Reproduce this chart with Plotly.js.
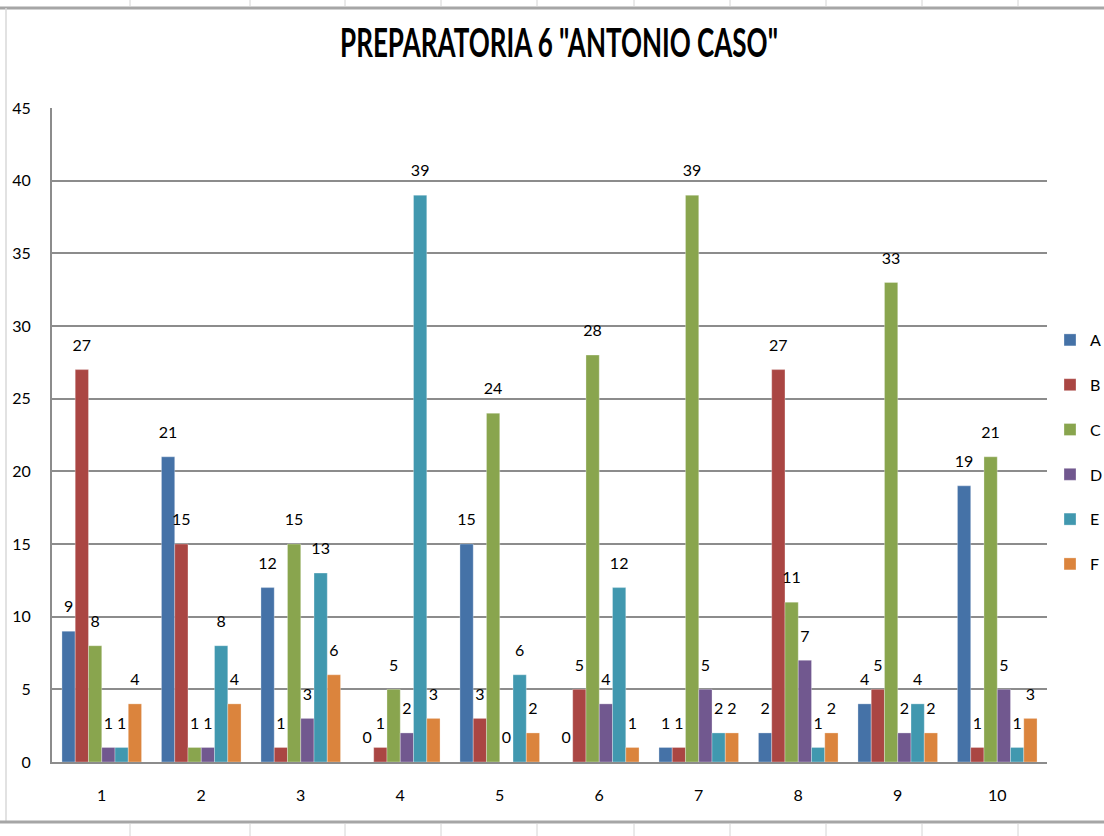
<!DOCTYPE html>
<html>
<head>
<meta charset="utf-8">
<script src="https://cdn.plot.ly/plotly-3.0.1.min.js"></script>
<style>html,body{margin:0;padding:0;background:#fff;}#chart{width:1104px;height:836px;}</style>
</head>
<body>
<div id="chart"></div>
<script>
const categories = ["1","2","3","4","5","6","7","8","9","10"];
const seriesNames = ["A","B","C","D","E","F"];
const seriesA = [9, 21, 12, 0, 15, 0, 1, 2, 4, 19];
const seriesB = [27, 15, 1, 1, 3, 5, 1, 27, 5, 1];
const seriesC = [8, 1, 15, 5, 24, 28, 39, 11, 33, 21];
const seriesD = [1, 1, 3, 2, 0, 4, 5, 7, 2, 5];
const seriesE = [1, 8, 13, 39, 6, 12, 2, 1, 4, 1];
const seriesF = [4, 4, 6, 3, 2, 1, 2, 2, 2, 3];
const yTicks = [0, 5, 10, 15, 20, 25, 30, 35, 40, 45];
const colors = ["#4572A7", "#AA4643", "#89A54E", "#71588F", "#4198AF", "#DB843D"];

const FONT = 'Lato, "Liberation Sans", sans-serif';
const allSeries = [seriesA, seriesB, seriesC, seriesD, seriesE, seriesF];

const barTraces = allSeries.map((vals, i) => ({
  type: 'bar',
  name: seriesNames[i],
  x: categories,
  y: vals,
  offsetgroup: seriesNames[i],
  marker: {color: colors[i], line: {color: 'rgba(255,255,255,0.5)', width: 0.6}},
  legendgroup: seriesNames[i],
  hoverinfo: 'x+y+name'
}));

const labelTraces = allSeries.map((vals, i) => ({
  type: 'scatter',
  mode: 'markers+text',
  name: seriesNames[i] + ' labels',
  x: categories,
  y: vals,
  offsetgroup: seriesNames[i],
  text: vals.map(String),
  textposition: 'top center',
  textfont: {family: FONT, size: 16, color: '#000'},
  marker: {size: 22, opacity: 0, color: colors[i]},
  cliponaxis: false,
  showlegend: false,
  hoverinfo: 'skip'
}));

// paper coordinate helpers (plot area 52..1047 x, 108..762 y)
const L = 52, R = 1047, T = 108, B = 762;
const px = v => (v - L) / (R - L);
const py = v => (B - v) / (B - T);

const shapes = [];
shapes.push({type:'line', xref:'paper', yref:'paper', x0: px(0), x1: px(1104), y0: py(8), y1: py(8), line:{color:'#a6a6a6', width:3}});
shapes.push({type:'line', xref:'paper', yref:'paper', x0: px(6), x1: px(6), y0: py(8), y1: py(822), line:{color:'#d9d9d9', width:1.5}});
shapes.push({type:'line', xref:'paper', yref:'paper', x0: px(0), x1: px(1104), y0: py(822), y1: py(822), line:{color:'#a6a6a6', width:3}});
const cellX = [130, 250, 345, 441, 537, 634, 730, 826, 922, 1018];
cellX.forEach(cx => {
  shapes.push({type:'line', xref:'paper', yref:'paper', x0: px(cx), x1: px(cx), y0: py(0), y1: py(6), line:{color:'#d4d4d4', width:1}});
  shapes.push({type:'line', xref:'paper', yref:'paper', x0: px(cx), x1: px(cx), y0: py(824), y1: py(836), line:{color:'#d4d4d4', width:1}});
});

const layout = {
  width: 1104, height: 836,
  margin: {l: L, r: 1104 - R, t: T, b: 836 - B, pad: 0, autoexpand: false},
  paper_bgcolor: '#fff', plot_bgcolor: '#fff',
  font: {family: FONT, size: 16, color: '#000'},
  title: {text: '<b>PREPARATORIA 6 "ANTONIO CASO"</b>', x: 559/1104, xanchor: 'center', y: 1 - 43/836, yanchor: 'middle',
          font: {family: FONT, size: 40, color: '#000'}},
  barmode: 'group', bargap: 0.2, bargroupgap: 0,
  scattermode: 'group', scattergap: 0.2,
  xaxis: {type: 'category', showgrid: false, showline: true, linecolor: '#8c8c8c', linewidth: 2,
          ticks: '', ticklabelstandoff: 18, tickfont: {family: FONT, size: 16, color: '#000'}, fixedrange: true},
  yaxis: {range: [0, 45], tickvals: yTicks, ticktext: yTicks.map(String), showgrid: true, gridcolor: '#8c8c8c', gridwidth: 2,
          showline: true, linecolor: '#8c8c8c', linewidth: 2, zeroline: false, ticks: '',
          ticklabelstandoff: 16, tickfont: {family: FONT, size: 16, color: '#000'}, fixedrange: true},
  legend: {x: px(1050), xanchor: 'left', y: py(452), yanchor: 'middle', traceorder: 'grouped', tracegroupgap: 21,
           font: {family: FONT, size: 16, color: '#000'}, bgcolor: 'rgba(0,0,0,0)', itemwidth: 30},
  showlegend: true,
  shapes: shapes
};

Plotly.newPlot('chart', barTraces.concat(labelTraces), layout, {displayModeBar: false, staticPlot: true}).then(gd => {
  // condense the title horizontally to mimic the narrow original typeface
  const t = gd.querySelector('.gtitle');
  if (t) {
    const bb = t.getBBox();
    const target = 438;
    const sx = Math.min(1, target / bb.width);
    const cx = bb.x + bb.width / 2;
    t.setAttribute('transform', `translate(${cx},0) scale(${sx},1) translate(${-cx},0)`);
  }
});
</script>
</body>
</html>
